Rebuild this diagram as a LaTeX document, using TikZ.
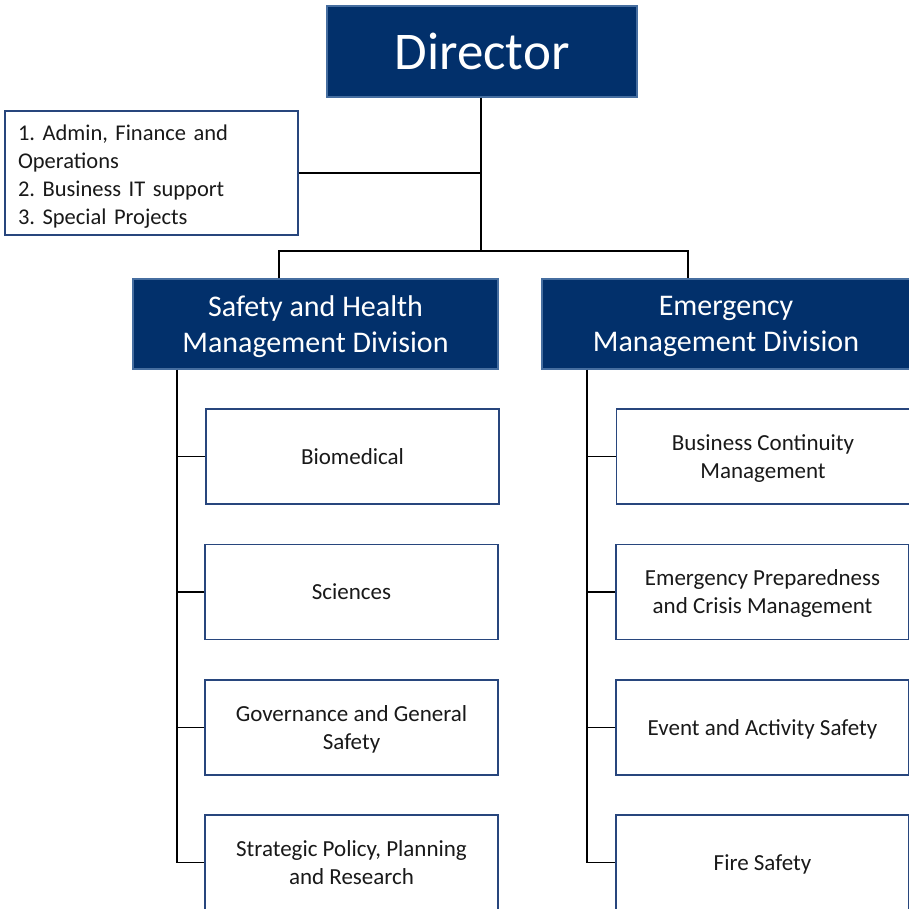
\documentclass[tikz,border=0pt]{standalone}
\usepackage{fontspec}
\setmainfont{Carlito}
\frenchspacing
\definecolor{navy}{RGB}{2,48,107}
\definecolor{navyedge}{RGB}{70,110,160}
\definecolor{boxedge}{RGB}{40,70,125}
\definecolor{txt}{RGB}{25,25,25}
\tikzset{
  headbox/.style={draw=navyedge, fill=navy, line width=1.3pt, text=white, align=center, inner sep=0pt},
  unitbox/.style={draw=boxedge, fill=white, line width=1.4pt, text=txt, align=center, inner sep=0pt,
     minimum width=293pt, minimum height=95pt, text depth=0pt, font=\fontsize{23}{28}\selectfont},
  link/.style={draw=black, line width=1.3pt}
}
\begin{document}
\begin{tikzpicture}[x=1pt,y=-1pt]
\useasboundingbox (0,0) rectangle (909,908);
\clip (0,0) rectangle (909,908);
\fill[white] (0,0) rectangle (909,908);

\node[headbox, minimum width=310pt, minimum height=91pt, font=\fontsize{53}{60}\selectfont] (dir) at (482,51.5) {Director};

\node[draw=boxedge, line width=1.4pt, text=txt, align=left, inner sep=0pt, text width=267pt,
      minimum width=293pt, minimum height=124pt, font=\fontsize{22.5}{28}\selectfont] (adm) at (151.5,173)
  {\rule{0pt}{22pt}1. Admin, Finance and\\Operations\\2. Business IT support\\3. Special Projects};

\node[headbox, minimum width=365pt, minimum height=90pt, text depth=0pt, font=\fontsize{30}{36}\selectfont] (shd) at (315.5,324)
  {Safety and Health\\Management Division};
\node[headbox, minimum width=368pt, minimum height=90pt, text depth=0pt, font=\fontsize{30}{36}\selectfont] (emd) at (726,324)
  {Emergency\\Management Division};

\node[unitbox] (l1) at (352.5,456.5) {Biomedical};
\node[unitbox] (l2) at (351.5,592) {Sciences};
\node[unitbox] (l3) at (351.5,727.5) {Governance and General\\Safety};
\node[unitbox] (l4) at (351.5,862.5) {Strategic Policy, Planning\\and Research};

\node[unitbox] (r1) at (763,456.5) {Business Continuity\\Management};
\node[unitbox] (r2) at (762.5,592) {Emergency Preparedness\\and Crisis Management};
\node[unitbox] (r3) at (762.5,727.5) {Event and Activity Safety};
\node[unitbox] (r4) at (762.5,862.5) {Fire Safety};

\coordinate (bus) at (481,251);
\coordinate (ldrop) at (279,251);
\coordinate (rdrop) at (688,251);
\coordinate (lx) at (177,0);
\coordinate (rx) at (587,0);

\draw[link] (dir.south -| bus) -- (bus);
\draw[link] (adm.east) -- (adm.east -| bus);
\draw[link] (ldrop |- shd.north) -- (ldrop) -- (rdrop) -- (rdrop |- emd.north);

\draw[link] (lx |- shd.south) |- (l4.west);
\draw[link] (l1.west) -- (l1.west -| lx);
\draw[link] (l2.west) -- (l2.west -| lx);
\draw[link] (l3.west) -- (l3.west -| lx);

\draw[link] (rx |- emd.south) |- (r4.west);
\draw[link] (r1.west) -- (r1.west -| rx);
\draw[link] (r2.west) -- (r2.west -| rx);
\draw[link] (r3.west) -- (r3.west -| rx);
\end{tikzpicture}
\end{document}
